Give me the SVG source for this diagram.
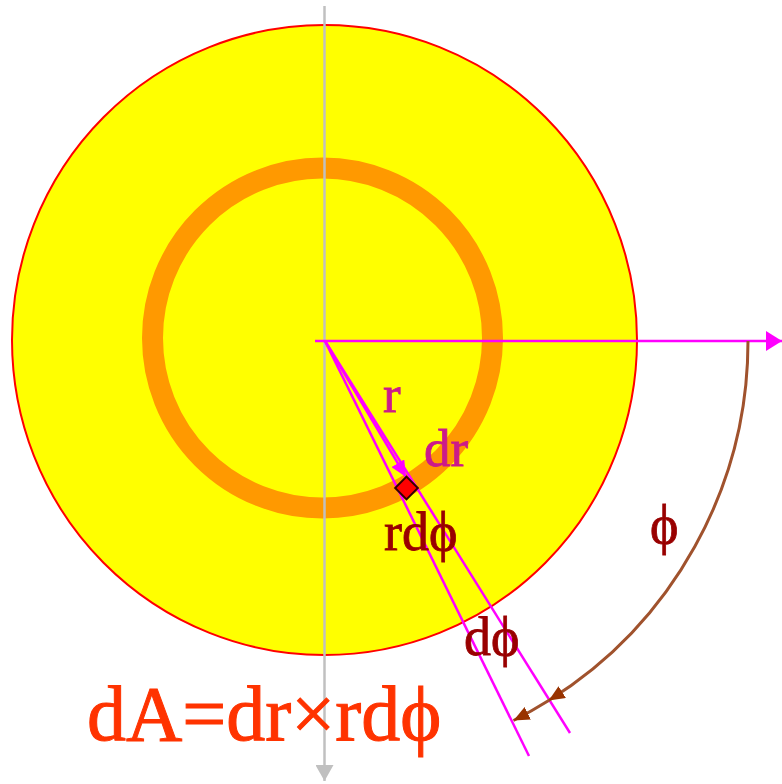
<svg xmlns="http://www.w3.org/2000/svg" width="782" height="784" viewBox="0 0 782 784">
<style>
.lbl{font-family:"Liberation Serif","Times New Roman",serif;stroke-width:0.8;}
.mag{fill:#cc1a8a;stroke:#cc1a8a;font-size:53px;}
.dark{fill:#990000;stroke:#990000;font-size:54px;}
.formula{fill:#ff3300;stroke:#ff3300;font-size:78px;stroke-width:1;}
.radial{stroke:#ff00ff;stroke-width:2.5;fill:none;}
</style>
<defs>
<marker id="magAxis" viewBox="0 0 16 20" refX="16" refY="10" markerWidth="16" markerHeight="20" markerUnits="userSpaceOnUse" orient="auto"><path d="M0,0 L16,10 L0,20 z" fill="#ff00ff"/></marker>
<marker id="magR" viewBox="0 0 16 15" refX="16" refY="7.5" markerWidth="16" markerHeight="15" markerUnits="userSpaceOnUse" orient="auto"><path d="M0,0 L16,7.5 L0,15 z" fill="#ff00ff"/></marker>
<marker id="grayArr" viewBox="0 0 16 18" refX="16" refY="9" markerWidth="16" markerHeight="18" markerUnits="userSpaceOnUse" orient="auto"><path d="M0,0 L16,9 L0,18 z" fill="#c0c0c0"/></marker>
<marker id="brownArr" viewBox="0 0 16 14" refX="16" refY="7" markerWidth="16" markerHeight="14" markerUnits="userSpaceOnUse" orient="auto"><path d="M0,0 L16,7 L0,14 z" fill="#993300"/></marker>
</defs>
<rect width="782" height="784" fill="#ffffff"/>
<g id="outer-disk">
<ellipse cx="324.5" cy="340" rx="312.5" ry="315" fill="#ffff00" stroke="#ff0000" stroke-width="2"/>
</g>
<g id="ring">
<circle cx="322.5" cy="338" r="170" fill="none" stroke="#ff9900" stroke-width="21"/>
</g>
<g id="connectors">
<line x1="324.5" y1="6" x2="324.5" y2="781" stroke="#c0c0c0" stroke-width="2.5" marker-end="url(#grayArr)"/>
<line x1="315" y1="341" x2="782" y2="341" stroke="#ff00ff" stroke-width="2.5" marker-end="url(#magAxis)"/>
<line class="radial" x1="325" y1="341" x2="529" y2="756"/>
<line class="radial" x1="325" y1="341" x2="570" y2="733"/>
<line class="radial" x1="325" y1="341" x2="406" y2="477" stroke-width="3" marker-end="url(#magR)"/>
<path d="M748,341 A424,424 0 0 1 548.7,700.6 A424,424 0 0 1 513.5,720.5" fill="none" stroke="#a0522d" stroke-width="3" marker-mid="url(#brownArr)" marker-end="url(#brownArr)"/>
</g>
<g id="element">
<rect x="-8" y="-8" width="16" height="16" fill="#ff0000" stroke="#330000" stroke-width="2" transform="translate(406.5,488) rotate(45)"/>
</g>
<g id="label-r"><text class="lbl mag" x="383" y="412">r</text></g>
<g id="label-dr"><text class="lbl mag" x="424" y="466">dr</text></g>
<g id="label-rdphi"><text class="lbl dark" x="384" y="550">rdϕ</text></g>
<g id="label-dphi"><text class="lbl dark" x="464" y="655">dϕ</text></g>
<g id="label-phi"><text class="lbl dark" x="650" y="543">ϕ</text></g>
<g id="formula"><text class="lbl formula" x="87" y="740">dA=dr×rdϕ</text></g>
</svg>
